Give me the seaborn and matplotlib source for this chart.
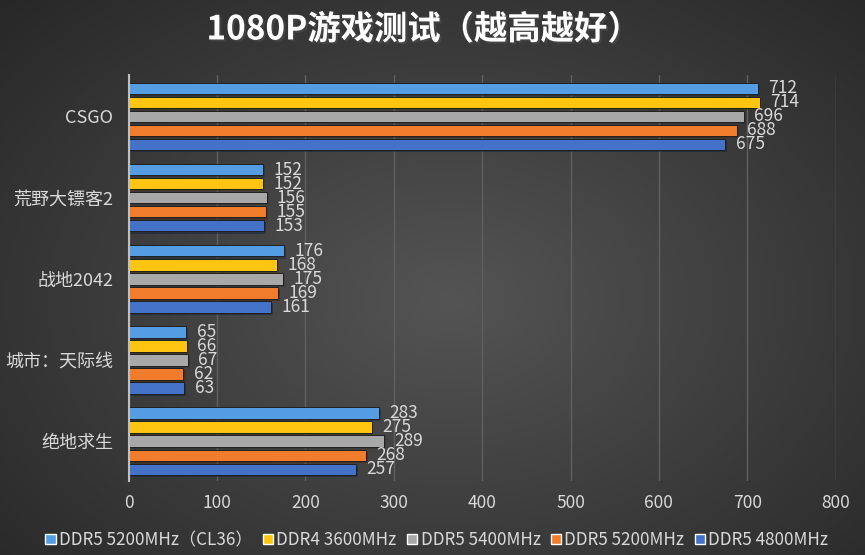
import numpy as np
import pandas as pd
import matplotlib
matplotlib.use("Agg")
import matplotlib.pyplot as plt
import matplotlib.patheffects as pe
import seaborn as sns

games = ["CSGO", "荒野大镖客2", "战地2042", "城市：天际线", "绝地求生"]
series = ["DDR5 5200MHz（CL36）", "DDR4 3600MHz", "DDR5 5400MHz", "DDR5 5200MHz", "DDR5 4800MHz"]
ddr5_5200_cl36 = [712, 152, 176, 65, 283]
ddr4_3600 = [714, 152, 168, 66, 275]
ddr5_5400 = [696, 156, 175, 67, 289]
ddr5_5200 = [688, 155, 169, 62, 268]
ddr5_4800 = [675, 153, 161, 63, 257]
colors = ["#559de3", "#ffc510", "#a8a8a8", "#f07c2c", "#4472c8"]
xticks = [0, 100, 200, 300, 400, 500, 600, 700, 800]
title = "1080P游戏测试（越高越好）"

values = [ddr5_5200_cl36, ddr4_3600, ddr5_5400, ddr5_5200, ddr5_4800]
rows = []
for s, vals in zip(series, values):
    for g, v in zip(games, vals):
        rows.append({"game": g, "series": s, "fps": v})
df = pd.DataFrame(rows)

sns.set_theme(style="dark")
plt.rcParams["font.family"] = ["Noto Sans CJK SC", "DejaVu Sans"]
plt.rcParams["axes.unicode_minus"] = False

fig = plt.figure(figsize=(8.65, 5.55), dpi=100)

# radial gradient background
bg = fig.add_axes([0, 0, 1, 1], zorder=-10)
yy, xx = np.mgrid[0:555, 0:865]
d = np.sqrt(((xx - 450) / 600.0) ** 2 + ((yy - 300) / 420.0) ** 2)
shade = np.clip(0.33 - 0.17 * d, 0.15, 0.35)
bg.imshow(np.dstack([shade, shade, shade]), aspect="auto", extent=[0, 1, 0, 1])
bg.set_axis_off()

ax = fig.add_axes([0.1488, 0.1333, 0.8172, 0.7316])
ax.set_facecolor("none")

sns.barplot(data=df, x="fps", y="game", hue="series", order=games,
            hue_order=series, palette=colors, orient="h", width=0.865,
            saturation=1, ax=ax, legend=True, zorder=3)

bar_h = 0.142
for bars, col in zip(ax.containers, colors):
    for p in bars:
        cy = p.get_y() + p.get_height() / 2
        p.set_height(bar_h)
        p.set_y(cy - bar_h / 2)
        p.set_edgecolor("#202020")
        p.set_linewidth(0.7)
        p.set_path_effects([pe.SimplePatchShadow(offset=(1.5, -1.5), alpha=0.5), pe.Normal()])
    ax.bar_label(bars, padding=7.5, color="#d9d9d9", fontsize=12.5)

ax.set_xlim(0, 800)
ax.set_ylim(4.49, -0.51)
ax.set_xticks(xticks)
ax.set_xticklabels([str(t) for t in xticks])
ax.xaxis.grid(True, color="#606060", linewidth=1, zorder=0)
ax.yaxis.grid(False)
ax.tick_params(axis="x", colors="#d9d9d9", labelsize=12.5, length=0, pad=9)
ax.tick_params(axis="y", colors="#d9d9d9", labelsize=13, length=0, pad=11)
ax.set_xlabel("")
ax.set_ylabel("")
for s in ["top", "right", "bottom"]:
    ax.spines[s].set_visible(False)
ax.spines["left"].set_color("#bfbfbf")
ax.spines["left"].set_linewidth(1.5)
ax.spines["left"].set_zorder(5)

handles, labels = ax.get_legend_handles_labels()
ax.legend_.remove()
leg = fig.legend(handles, labels, loc="center", bbox_to_anchor=(0.505, 0.027),
                 ncol=5, frameon=False, fontsize=12.3, handlelength=0.6,
                 handleheight=0.6, handletextpad=0.2, columnspacing=0.6,
                 labelcolor="#d9d9d9")

fig.text(0.49, 0.946, title, ha="center", va="center", color="white",
         fontsize=24, fontweight="bold",
         path_effects=[pe.withSimplePatchShadow(offset=(1.5, -1.5), alpha=0.6)])

fig.savefig("out.png", dpi=100)
